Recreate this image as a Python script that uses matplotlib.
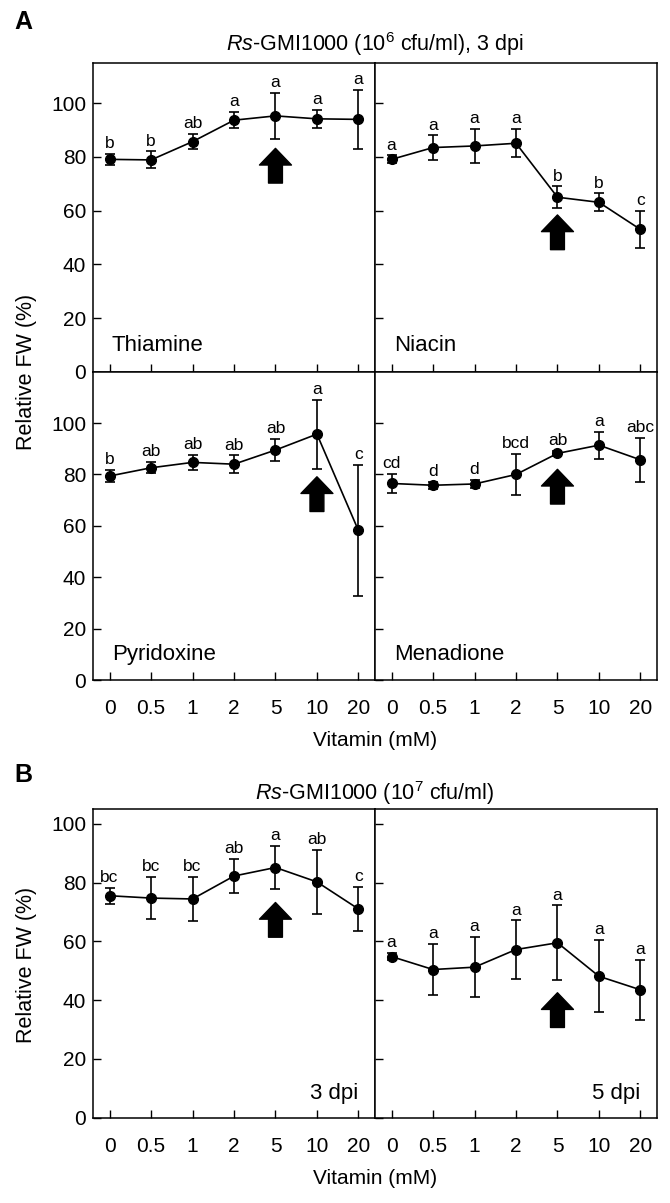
import matplotlib
matplotlib.use('Agg')
import matplotlib.pyplot as plt
import numpy as np

plt.rcParams['font.family'] = ['Liberation Sans', 'DejaVu Sans']
plt.rcParams['mathtext.fontset'] = 'custom'
plt.rcParams['mathtext.rm'] = 'Liberation Sans'
plt.rcParams['mathtext.it'] = 'Liberation Sans:italic'

conc_labels = ['0', '0.5', '1', '2', '5', '10', '20']

# Panel A, 10^6 cfu/ml, 3 dpi
thiamine_mean = [79.1, 78.9, 85.7, 93.7, 95.3, 94.2, 94.0]
thiamine_err = [2.0, 3.2, 2.8, 3.0, 8.7, 3.3, 11.1]
thiamine_sig = ['b', 'b', 'ab', 'a', 'a', 'a', 'a']

niacin_mean = [79.1, 83.5, 84.1, 85.1, 65.0, 63.1, 53.0]
niacin_err = [1.5, 4.5, 6.3, 5.3, 4.0, 3.3, 7.0]
niacin_sig = ['a', 'a', 'a', 'a', 'b', 'b', 'c']

pyridoxine_mean = [79.4, 82.6, 84.7, 84.0, 89.5, 95.7, 58.2]
pyridoxine_err = [2.5, 2.2, 2.9, 3.4, 4.2, 13.4, 25.5]
pyridoxine_sig = ['b', 'ab', 'ab', 'ab', 'ab', 'a', 'c']

menadione_mean = [76.5, 75.8, 76.3, 80.0, 88.2, 91.4, 85.7]
menadione_err = [3.8, 1.3, 1.7, 8.0, 1.1, 5.2, 8.5]
menadione_sig = ['cd', 'd', 'd', 'bcd', 'ab', 'a', 'abc']

# Panel B, 10^7 cfu/ml
dpi3_mean = [75.5, 74.7, 74.4, 82.2, 85.1, 80.2, 71.0]
dpi3_err = [2.7, 7.1, 7.5, 5.9, 7.3, 10.8, 7.5]
dpi3_sig = ['bc', 'bc', 'bc', 'ab', 'a', 'ab', 'c']

dpi5_mean = [54.8, 50.4, 51.2, 57.2, 59.5, 48.1, 43.5]
dpi5_err = [1.2, 8.6, 10.3, 9.9, 12.7, 12.3, 10.2]
dpi5_sig = ['a', 'a', 'a', 'a', 'a', 'a', 'a']

# chosen concentration (arrow) and arrow tip height
arrow_idx = {'Thiamine': 4, 'Niacin': 4, 'Pyridoxine': 5, 'Menadione': 4,
             '3 dpi': 4, '5 dpi': 4}
arrow_tip = {'Thiamine': 83.2, 'Niacin': 58.4, 'Pyridoxine': 79.1,
             'Menadione': 82.0, '3 dpi': 73.2, '5 dpi': 42.5}

W, H = 670, 1203
fig = plt.figure(figsize=(W / 100, H / 100), dpi=100)

x0, xmid, x1 = 93 / W, 375 / W, 657 / W


def fy(py):
    return 1 - py / H


def make_ax(left, right, top, bottom):
    return fig.add_axes([left, fy(bottom), right - left, fy(top) - fy(bottom)])


def draw_panel(ax, name, mean, err, sig, ymax, show_y, show_x,
               name_right=False):
    x = np.arange(len(mean))
    ax.errorbar(x, mean, yerr=err, fmt='-o', color='black', ms=7,
                lw=1.2, elinewidth=1.2, capsize=3.8, capthick=1.2)
    for i, (m, e, s) in enumerate(zip(mean, err, sig)):
        ax.annotate(s, xy=(i, m + e), xytext=(0, 2), textcoords='offset points',
                    ha='center', va='bottom', fontsize=12.5)
    ax.annotate('', xy=(arrow_idx[name], arrow_tip[name]), xytext=(0, -25),
                textcoords='offset points',
                arrowprops=dict(arrowstyle='simple,head_width=23,head_length=12,'
                                           'tail_width=10',
                                mutation_scale=1, fc='black', ec='black',
                                shrinkA=0, shrinkB=0))
    if name_right:
        ax.text(0.94, 0.08, name, transform=ax.transAxes, ha='right',
                va='center', fontsize=16)
    else:
        ax.text(0.067, 0.084, name, transform=ax.transAxes, ha='left',
                va='center', fontsize=16)
    ax.set_xlim(-0.4, len(mean) - 0.6)
    ax.set_ylim(0, ymax)
    ax.set_yticks(np.arange(0, 101, 20))
    ax.set_xticks(x)
    ax.tick_params(direction='in', length=6, width=1, labelsize=15)
    ax.tick_params(axis='x', pad=14)
    ax.tick_params(axis='y', pad=5)
    ax.tick_params(top=False, right=False)
    if show_x:
        ax.set_xticklabels(conc_labels)
    else:
        ax.set_xticklabels([])
    if not show_y:
        ax.set_yticklabels([])
    for sp in ax.spines.values():
        sp.set_linewidth(1.1)


# Panel A
ax = make_ax(x0, xmid, 63, 371.7)
draw_panel(ax, 'Thiamine', thiamine_mean, thiamine_err, thiamine_sig, 115, True, False)
ax = make_ax(xmid, x1, 63, 371.7)
draw_panel(ax, 'Niacin', niacin_mean, niacin_err, niacin_sig, 115, False, False)
ax = make_ax(x0, xmid, 371.7, 680)
draw_panel(ax, 'Pyridoxine', pyridoxine_mean, pyridoxine_err, pyridoxine_sig, 120, True, True)
ax = make_ax(xmid, x1, 371.7, 680)
draw_panel(ax, 'Menadione', menadione_mean, menadione_err, menadione_sig, 120, False, True)

# Panel B
ax = make_ax(x0, xmid, 809, 1117.7)
draw_panel(ax, '3 dpi', dpi3_mean, dpi3_err, dpi3_sig, 105, True, True, name_right=True)
ax = make_ax(xmid, x1, 809, 1117.7)
draw_panel(ax, '5 dpi', dpi5_mean, dpi5_err, dpi5_sig, 105, False, True, name_right=True)

xc = (x0 + x1) / 2
fig.text(14 / W, fy(22), 'A', fontsize=18, fontweight='bold', ha='left', va='center')
fig.text(14 / W, fy(775), 'B', fontsize=18, fontweight='bold', ha='left', va='center')
fig.text(xc, fy(44), r'$\mathit{Rs}$-GMI1000 (10$^{6}$ cfu/ml), 3 dpi',
         fontsize=15.5, ha='center', va='center')
fig.text(xc, fy(793), r'$\mathit{Rs}$-GMI1000 (10$^{7}$ cfu/ml)',
         fontsize=15.5, ha='center', va='center')
fig.text(xc, fy(741), 'Vitamin (mM)', fontsize=15, ha='center', va='center')
fig.text(xc, fy(1178), 'Vitamin (mM)', fontsize=15, ha='center', va='center')
fig.text(27 / W, fy(371.7), 'Relative FW (%)', fontsize=15.5, rotation=90,
         ha='center', va='center')
fig.text(27 / W, fy(965), 'Relative FW (%)', fontsize=15.5, rotation=90,
         ha='center', va='center')

fig.savefig('out.png', dpi=100)
